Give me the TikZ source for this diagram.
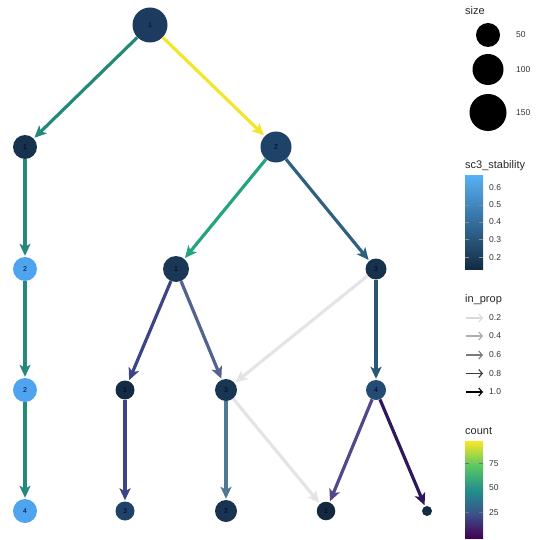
\documentclass[tikz,border=0pt]{standalone}
\usepackage{fontspec}
\setmainfont{Liberation Sans}
\usetikzlibrary{arrows.meta}

\definecolor{ndark}{HTML}{132B43}
\definecolor{ntop}{HTML}{1C3B5E}
\definecolor{nmid}{HTML}{1F4268}
\definecolor{nsoft}{HTML}{234B73}
\definecolor{nlight}{HTML}{4FA4EF}
\definecolor{sclo}{HTML}{132B43}
\definecolor{schi}{HTML}{56B1F7}
\definecolor{eteal}{HTML}{25897A}
\definecolor{egreen}{HTML}{25A37F}
\definecolor{eyellow}{HTML}{F3E52A}
\definecolor{eblue}{HTML}{2E6180}
\definecolor{eindigo}{HTML}{3C4487}
\definecolor{egrayblue}{HTML}{52638F}
\definecolor{epale}{HTML}{E4E4E6}
\definecolor{epurple}{HTML}{55478A}
\definecolor{edeep}{HTML}{2E185B}
\definecolor{vA}{HTML}{FDE725}
\definecolor{vB}{HTML}{5DC863}
\definecolor{vC}{HTML}{21918C}
\definecolor{vD}{HTML}{3B528B}
\definecolor{vE}{HTML}{440154}

\begin{document}
\begin{tikzpicture}[x=1pt,y=-1pt,
  clu/.style={circle,inner sep=0pt,font=\fontsize{7}{7}\selectfont,text=black!80!blue},
  edge/.style={line width=3.2pt,-{Stealth[length=12pt,width=11pt,inset=3pt]},shorten >=1pt},
  ttl/.style={anchor=base west,inner sep=0pt,font=\fontsize{11}{11}\selectfont,text=black!85},
  tck/.style={anchor=west,inner sep=0pt,font=\fontsize{8.5}{8.5}\selectfont,text=black!80},
  prop/.style={line width=1.1pt,-{Straight Barb[length=3.5pt,width=8pt]}}]
\path (0,0) rectangle (540,540);

\node[clu,minimum size=35pt,fill=ntop] (a1) at (150,25) {1};
\node[clu,minimum size=24pt,fill=ndark!95!schi] (b1) at (25,147) {1};
\node[clu,minimum size=31pt,fill=nmid] (b2) at (276,147) {2};
\node[clu,minimum size=24pt,fill=nlight] (c2) at (25,269) {2};
\node[clu,minimum size=26pt,fill=ndark!90!schi] (c1) at (176,269) {1};
\node[clu,minimum size=21pt,fill=ndark!95!schi] (c3) at (376,269) {3};
\node[clu,minimum size=24pt,fill=nlight] (d2) at (25,390) {2};
\node[clu,minimum size=19pt,fill=ndark] (d1) at (125,390) {1};
\node[clu,minimum size=22pt,fill=ndark!92!schi] (d3) at (226,390) {3};
\node[clu,minimum size=20pt,fill=nsoft] (d4) at (376,390) {4};
\node[clu,minimum size=24pt,fill=nlight] (e4) at (25,511) {4};
\node[clu,minimum size=19pt,fill=nmid] (e3) at (125,511) {3};
\node[clu,minimum size=22pt,fill=ndark!93!schi] (e2) at (226,511) {2};
\node[clu,minimum size=18.5pt,fill=ndark!95!black] (e1) at (326,511) {1};
\node[clu,minimum size=10pt,fill=ndark] (e5) at (427,511) {};

\draw[edge,draw=epale] (c3) -- (d3);
\draw[edge,draw=epale] (d3) -- (e1);
\draw[edge,draw=eteal] (a1) -- (b1);
\draw[edge,draw=eyellow] (a1) -- (b2);
\draw[edge,draw=eteal] (b1) -- (c2);
\draw[edge,draw=egreen] (b2) -- (c1);
\draw[edge,draw=eblue] (b2) -- (c3);
\draw[edge,draw=eteal] (c2) -- (d2);
\draw[edge,draw=eindigo] (c1) -- (d1);
\draw[edge,draw=egrayblue] (c1) -- (d3);
\draw[edge,draw=eblue!90!black] (c3) -- (d4);
\draw[edge,draw=eteal] (d2) -- (e4);
\draw[edge,draw=eindigo] (d1) -- (e3);
\draw[edge,draw=eblue!85!white] (d3) -- (e2);
\draw[edge,draw=epurple] (d4) -- (e1);
\draw[edge,draw=edeep] (d4) -- (e5);

\node[ttl] (sizettl) at (465,15) {size};
\fill[black] (488,35) circle (12);
\fill[black] (488,69.5) circle (15.5);
\fill[black] (488,112.5) circle (18.5);
\node[tck] (s50) at (516,35) {50};
\node[tck] (s100) at (516,69.5) {100};
\node[tck] (s150) at (516,112.5) {150};

\node[ttl] (stabttl) at (465,168) {sc3\_stability};
\shade[bottom color=sclo,top color=schi] (465,175) rectangle (483,269);
\foreach \yy/\vv in {187.7/0.6,205/0.5,222/0.4,239.5/0.3,257.5/0.2}{
  \draw[black!45,line width=0.5pt] (465,\yy) -- (469,\yy) (479,\yy) -- (483,\yy);
  \node[tck] at (489,\yy) {\vv};
}

\node[ttl] (propttl) at (465,302) {in\_prop};
\foreach \yy/\vv/\gg in {318/0.2/15,336/0.4/32,355/0.6/52,373.5/0.8/78,392/1.0/100}{
  \coordinate (pa) at (466,\yy);
  \coordinate (pb) at (483,\yy);
  \draw[prop,draw=black!\gg] (pa) -- (pb);
  \node[tck] at (489,\yy) {\vv};
}

\node[ttl] (countttl) at (465,434) {count};
\shade[top color=vA,bottom color=vB] (465,441) rectangle (483,465.3);
\shade[top color=vB,bottom color=vC] (465,465.2) rectangle (483,489.6);
\shade[top color=vC,bottom color=vD] (465,489.5) rectangle (483,513.8);
\shade[top color=vD,bottom color=vE] (465,513.7) rectangle (483,538);
\foreach \yy/\vv in {463.3/75,487.3/50,512.3/25}{
  \draw[black!55,line width=0.5pt] (465,\yy) -- (469,\yy) (479,\yy) -- (483,\yy);
  \node[tck] at (489,\yy) {\vv};
}
\end{tikzpicture}
\end{document}
